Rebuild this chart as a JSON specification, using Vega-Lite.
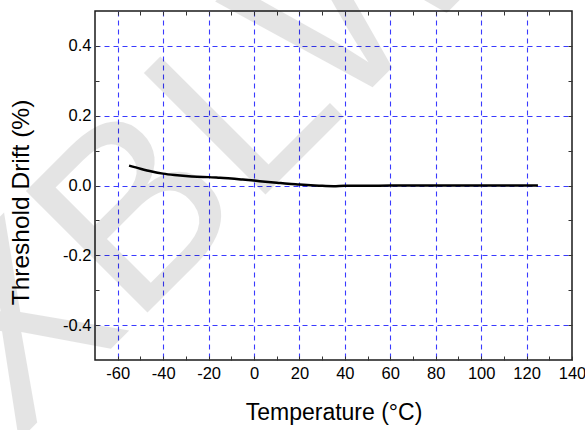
{
  "$schema": "https://vega.github.io/schema/vega-lite/v6.json",
  "width": 477,
  "height": 349,
  "autosize": {"type": "none"},
  "padding": {"left": 95, "top": 11, "right": 13, "bottom": 70},
  "background": "white",
  "config": {
    "view": {"stroke": "#1a1a1a", "strokeWidth": 1.5},
    "font": "Liberation Sans",
    "axis": {
      "labelFont": "Liberation Sans",
      "titleFont": "Liberation Sans",
      "labelColor": "#000",
      "titleColor": "#000",
      "titleFontWeight": "normal",
      "domain": false,
      "tickColor": "#333",
      "tickWidth": 1,
      "labelOverlap": false,
      "labelFlush": false
    }
  },
  "resolve": {"axis": {"x": "independent", "y": "independent"}},
  "layer": [
    {
      "data": {"values": [{"t": "XBLW"}]},
      "mark": {"type": "text", "angle": -45, "fontSize": 250, "fontWeight": "normal", "font": "Liberation Sans", "color": "#000", "opacity": 0.1, "align": "center", "baseline": "alphabetic", "clip": false},
      "encoding": {
        "text": {"field": "t"},
        "x": {"datum": 2.2, "type": "quantitative", "scale": {"domain": [-70, 140], "nice": false, "zero": false},
              "axis": {"orient": "top", "title": null, "labels": false, "grid": false, "ticks": true, "tickSize": -4,
                       "values": [-60, -50, -40, -30, -20, -10, 0, 10, 20, 30, 40, 50, 60, 70, 80, 90, 100, 110, 120, 130]}},
        "y": {"datum": -0.044, "type": "quantitative", "scale": {"domain": [-0.5, 0.5], "nice": false, "zero": false},
              "axis": {"orient": "right", "title": null, "labels": false, "grid": false, "ticks": true, "tickSize": -4,
                       "values": [-0.4, -0.3, -0.2, -0.1, 0, 0.1, 0.2, 0.3, 0.4]}}
      }
    },
    {
      "data": {"values": [
        {"temp": -55, "drift": 0.057},
        {"temp": -50, "drift": 0.048},
        {"temp": -45, "drift": 0.040},
        {"temp": -40, "drift": 0.034},
        {"temp": -35, "drift": 0.030},
        {"temp": -30, "drift": 0.027},
        {"temp": -25, "drift": 0.025},
        {"temp": -20, "drift": 0.024},
        {"temp": -15, "drift": 0.022},
        {"temp": -10, "drift": 0.020},
        {"temp": -5, "drift": 0.017},
        {"temp": 0, "drift": 0.014},
        {"temp": 5, "drift": 0.011},
        {"temp": 10, "drift": 0.008},
        {"temp": 15, "drift": 0.005},
        {"temp": 20, "drift": 0.003},
        {"temp": 25, "drift": 0.001},
        {"temp": 30, "drift": -0.001},
        {"temp": 35, "drift": -0.002},
        {"temp": 40, "drift": -0.001},
        {"temp": 50, "drift": -0.001},
        {"temp": 60, "drift": 0.0},
        {"temp": 80, "drift": 0.0},
        {"temp": 100, "drift": 0.0},
        {"temp": 125, "drift": 0.0}
      ]},
      "mark": {"type": "line", "color": "#000", "strokeWidth": 2.5, "interpolate": "monotone"},
      "encoding": {
        "x": {"field": "temp", "type": "quantitative",
              "axis": {"orient": "bottom", "title": "Temperature (°C)", "titleFontSize": 23, "titleBaseline": "alphabetic", "titleY": 59,
                       "values": [-60, -50, -40, -30, -20, -10, 0, 10, 20, 30, 40, 50, 60, 70, 80, 90, 100, 110, 120, 130, 140],
                       "labelExpr": "abs(datum.value) % 20 === 0 ? replace(datum.label, '−', '-') : ''",
                       "labelFontSize": 16.5, "labelPadding": 9,
                       "ticks": true, "tickSize": -4,
                       "grid": true, "gridColor": "#3a3aff", "gridWidth": 1.1, "gridDash": [5, 4],
                       "gridOpacity": {"condition": {"test": "abs(datum.value) % 20 === 0 && datum.value > -70 && datum.value < 140", "value": 1}, "value": 0}}},
        "y": {"field": "drift", "type": "quantitative",
              "axis": {"orient": "left", "title": "Threshold Drift (%)", "titleFontSize": 24.5, "titleBaseline": "alphabetic", "titleX": -66.5, "titleY": 191,
                       "values": [-0.4, -0.3, -0.2, -0.1, 0, 0.1, 0.2, 0.3, 0.4],
                       "format": ".1f",
                       "labelExpr": "abs(round(datum.value * 10)) % 2 === 0 ? replace(datum.label, '−', '-') : ''",
                       "labelFontSize": 16.5, "labelPadding": 8,
                       "ticks": true, "tickSize": -4,
                       "grid": true, "gridColor": "#3a3aff", "gridWidth": 1.1, "gridDash": [5, 4],
                       "gridOpacity": {"condition": {"test": "abs(round(datum.value * 10)) % 2 === 0", "value": 1}, "value": 0}}}
      }
    }
  ]
}
